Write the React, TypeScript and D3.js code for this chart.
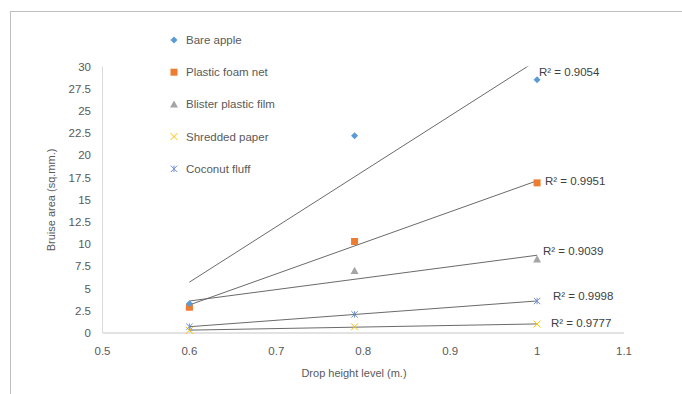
import React from "react";
import * as d3 from "d3";

const heights = [0.6, 0.79, 1.0];
const seriesNames = ["Bare apple", "Plastic foam net", "Blister plastic film", "Shredded paper", "Coconut fluff"];
const bareApple = [3.3, 22.2, 28.5];
const plasticFoamNet = [2.9, 10.3, 16.9];
const blisterPlasticFilm = [3.1, 7.0, 8.3];
const shreddedPaper = [0.3, 0.7, 1.0];
const coconutFluff = [0.7, 2.1, 3.6];
const r2Labels = ["R² = 0.9054", "R² = 0.9951", "R² = 0.9039", "R² = 0.9998", "R² = 0.9777"];
const xTicks = [0.5, 0.6, 0.7, 0.8, 0.9, 1, 1.1];
const yTicks = [0, 2.5, 5, 7.5, 10, 12.5, 15, 17.5, 20, 22.5, 25, 27.5, 30];

const colors = ["#5B9BD5", "#ED7D31", "#A5A5A5", "#FFC000", "#6F8FD0"];
const labelPos = [
  [539, 76],
  [545, 185],
  [543, 255],
  [553, 300],
  [551, 327],
];

function fit(xs: number[], ys: number[]) {
  const mx = d3.mean(xs)!;
  const my = d3.mean(ys)!;
  let sxy = 0, sxx = 0;
  xs.forEach((x, i) => {
    sxy += (x - mx) * (ys[i] - my);
    sxx += (x - mx) * (x - mx);
  });
  const b = sxy / sxx;
  return (x: number) => my + b * (x - mx);
}

function Marker({ kind, x, y, color }: { kind: number; x: number; y: number; color: string }) {
  if (kind === 0) {
    const s = 3.5;
    return <path d={`M${x},${y - s}L${x + s},${y}L${x},${y + s}L${x - s},${y}Z`} fill={color} />;
  }
  if (kind === 1) return <rect x={x - 3.5} y={y - 3.5} width={7} height={7} fill={color} />;
  if (kind === 2) {
    const s = 4;
    return <path d={`M${x},${y - s}L${x + s},${y + s * 0.8}L${x - s},${y + s * 0.8}Z`} fill={color} />;
  }
  if (kind === 3) {
    const s = 3.5;
    return <path d={`M${x - s},${y - s}L${x + s},${y + s}M${x + s},${y - s}L${x - s},${y + s}`} stroke={color} strokeWidth={1} fill="none" />;
  }
  const s = 3.2;
  return (
    <path
      d={`M${x - s},${y - s}L${x + s},${y + s}M${x + s},${y - s}L${x - s},${y + s}M${x},${y - s}L${x},${y + s}`}
      stroke={color}
      strokeWidth={1}
      fill="none"
    />
  );
}

export default function App() {
  const W = 682, H = 394;
  const x = d3.scaleLinear().domain([0.5, 1.1]).range([102.5, 624]);
  const y = d3.scaleLinear().domain([0, 30]).range([333, 66.5]);
  const allSeries = [bareApple, plasticFoamNet, blisterPlasticFilm, shreddedPaper, coconutFluff];
  const font = "'Liberation Sans', Arial, sans-serif";
  const line = d3.line<[number, number]>().x(d => x(d[0])).y(d => y(d[1]));

  return (
    <svg width={W} height={H} style={{ position: "absolute", left: 0, top: 0, background: "#fff" }}>
      <defs>
        <clipPath id="plot">
          <rect x={x(0.5)} y={y(30)} width={x(1.1) - x(0.5)} height={y(0) - y(30)} />
        </clipPath>
      </defs>
      <rect x={10.5} y={11.5} width={700} height={400} fill="none" stroke="#BFBFBF" strokeWidth={1} />
      {/* axes */}
      <line x1={x(0.5)} x2={x(0.5)} y1={y(30)} y2={y(0)} stroke="#D9D9D9" strokeWidth={1} />
      <line x1={x(0.5)} x2={x(1.1)} y1={y(0)} y2={y(0)} stroke="#D9D9D9" strokeWidth={1.5} />
      {yTicks.map(t => (
        <text key={t} x={91} y={y(t) + 4} textAnchor="end" fontFamily={font} fontSize={11.5} fill="#595959">
          {t}
        </text>
      ))}
      {xTicks.map(t => (
        <text key={t} x={x(t)} y={355} textAnchor="middle" fontFamily={font} fontSize={11.5} fill="#595959">
          {t}
        </text>
      ))}
      <text x={354} y={377} textAnchor="middle" fontFamily={font} fontSize={11} fill="#595959">
        Drop height level (m.)
      </text>
      <text
        transform={`translate(55,200) rotate(-90)`}
        textAnchor="middle"
        fontFamily={font}
        fontSize={11}
        fill="#595959"
      >
        Bruise area (sq.mm.)
      </text>
      {/* trendlines */}
      <g clipPath="url(#plot)">
        {allSeries.map((s, i) => {
          const f = fit(heights, s);
          return (
            <path
              key={i}
              d={line([[heights[0], f(heights[0])], [heights[2], f(heights[2])]])!}
              stroke="#595959"
              strokeWidth={0.9}
              fill="none"
            />
          );
        })}
      </g>
      {/* markers */}
      {[3, 4, 2, 1, 0].map(i =>
        allSeries[i].map((v, j) => <Marker key={`${i}-${j}`} kind={i} x={x(heights[j])} y={y(v)} color={colors[i]} />)
      )}
      {r2Labels.map((l, i) => (
        <text key={i} x={labelPos[i][0]} y={labelPos[i][1]} fontFamily={font} fontSize={11.5} fill="#404040">
          {l}
        </text>
      ))}
      {/* legend */}
      {seriesNames.map((n, i) => (
        <g key={n}>
          <Marker kind={i} x={174} y={40 + i * 32.2} color={colors[i]} />
          <text x={186} y={44 + i * 32.2} fontFamily={font} fontSize={11.5} fill="#595959">
            {n}
          </text>
        </g>
      ))}
    </svg>
  );
}
